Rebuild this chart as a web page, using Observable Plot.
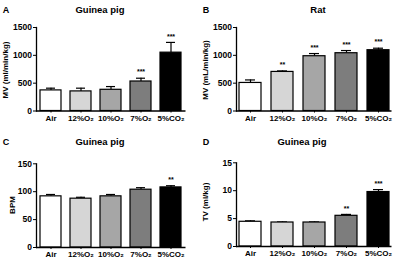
<!DOCTYPE html>
<html>
<head>
<meta charset="utf-8">
<script src="https://cdn.jsdelivr.net/npm/d3@7"></script>
<script src="https://cdn.jsdelivr.net/npm/@observablehq/plot@0.6"></script>
<style>
  html, body { margin: 0; padding: 0; background: #fff; }
  #root { position: relative; width: 400px; height: 263px; overflow: hidden; font-family: "Liberation Sans", Arial, sans-serif; }
  .panel { position: absolute; }
  .lbl { position: absolute; font-weight: bold; color: #000; white-space: nowrap; transform: translate(-50%, -50%); line-height: 1; }
  .rot { transform: translate(-50%, -50%) rotate(-90deg); }
  svg g[aria-label="y-axis tick label"] text { font-size: 8.5px; }
</style>
</head>
<body>
<div id="root"></div>
<script>
// ---- data ----
const categories = ["Air", "12%O\u2082", "10%O\u2082", "7%O\u2082", "5%CO\u2082"];
const barColors = ["#ffffff", "#d6d6d6", "#a6a6a6", "#7d7d7d", "#000000"];

const mvGuineaPig    = [370, 352, 381, 530, 1048];
const mvGuineaPigErr = [40, 58, 58, 59, 184];
const mvGuineaPigSig = ["", "", "", "***", "***"];

const mvRat    = [504, 702, 984, 1038, 1092];
const mvRatErr = [54, 18, 48, 48, 36];
const mvRatSig = ["", "**", "***", "***", "***"];

const bpmGuineaPig    = [91.7, 87.5, 91.7, 103.6, 107.7];
const bpmGuineaPigErr = [3.3, 2.5, 3.3, 3.6, 3.0];
const bpmGuineaPigSig = ["", "", "", "", "**"];

const tvGuineaPig    = [4.43, 4.3, 4.3, 5.5, 9.76];
const tvGuineaPigErr = [0.17, 0.1, 0.1, 0.25, 0.44];
const tvGuineaPigSig = ["", "", "", "**", "***"];

const mvTicks  = [0, 500, 1000, 1500];
const bpmTicks = [0, 50, 100, 150];
const tvTicks  = [0, 5, 10, 15];

const panels = [
  {letter: "A", title: "Guinea pig", ylabel: "MV (ml/min/kg)", values: mvGuineaPig, errs: mvGuineaPigErr, sig: mvGuineaPigSig, ticks: mvTicks,
   left: 0, top: 0, w: 200, h: 130, ml: 36, mr: 14.5, mt: 27, mb: 19.5,
   letterPos: [6, 10], titlePos: [100, 10], ylabelPos: [6, 70]},
  {letter: "B", title: "Rat", ylabel: "MV (mL/min/kg)", values: mvRat, errs: mvRatErr, sig: mvRatSig, ticks: mvTicks,
   left: 200, top: 0, w: 200, h: 130, ml: 36, mr: 8.5, mt: 27, mb: 19.5,
   letterPos: [206, 10], titlePos: [318, 10], ylabelPos: [206, 70]},
  {letter: "C", title: "Guinea pig", ylabel: "BPM", values: bpmGuineaPig, errs: bpmGuineaPigErr, sig: bpmGuineaPigSig, ticks: bpmTicks,
   left: 0, top: 130, w: 200, h: 133, ml: 36, mr: 14.5, mt: 33.3, mb: 16,
   letterPos: [6, 142], titlePos: [100, 142], ylabelPos: [13, 205]},
  {letter: "D", title: "Guinea pig", ylabel: "TV (ml/kg)", values: tvGuineaPig, errs: tvGuineaPigErr, sig: tvGuineaPigSig, ticks: tvTicks,
   left: 200, top: 130, w: 200, h: 133, ml: 36, mr: 8.5, mt: 32.3, mb: 17,
   letterPos: [206, 142], titlePos: [302, 142], ylabelPos: [206, 202]}
];

const root = document.getElementById("root");
const FONT = "'Liberation Sans', Arial, sans-serif";

function label(text, x, y, size, extraClass) {
  const d = document.createElement("div");
  d.className = "lbl" + (extraClass ? " " + extraClass : "");
  d.textContent = text;
  d.style.left = x + "px";
  d.style.top = y + "px";
  d.style.fontSize = size + "px";
  root.appendChild(d);
}

for (const p of panels) {
  const data = categories.map((c, i) => ({cat: c, v: p.values[i], e: p.errs[i], s: p.sig[i], fill: barColors[i]}));
  const chart = Plot.plot({
    width: p.w, height: p.h,
    marginLeft: p.ml, marginRight: p.mr, marginTop: p.mt, marginBottom: p.mb,
    style: {fontFamily: FONT, fontSize: "8px", fontWeight: "bold", background: "transparent", overflow: "visible", color: "#000"},
    x: {domain: categories, paddingInner: 0.31, paddingOuter: 0.075, label: null, tickSize: 2, tickPadding: 2},
    y: {domain: [0, p.ticks[p.ticks.length - 1]], ticks: p.ticks, tickFormat: d => String(d), label: null, tickSize: 3, tickPadding: 1.5},
    color: {type: "identity"},
    marks: [
      Plot.ruleX(data, {x: "cat", y1: "v", y2: d => d.v + d.e, stroke: "#000", strokeWidth: 1.2}),
      Plot.tickY(data, {x: "cat", y: d => d.v + d.e, stroke: "#000", strokeWidth: 1.2, insetLeft: 6, insetRight: 6}),
      Plot.barY(data, {x: "cat", y: "v", fill: "fill", stroke: "#000", strokeWidth: 1.2}),
      Plot.text(data, {x: "cat", y: d => d.v + d.e, text: "s", dy: -6, fontSize: 7, fontWeight: "bold", fill: "#000"}),
      Plot.ruleY([0], {stroke: "#000", strokeWidth: 1.3}),
      Plot.frame({anchor: "left", stroke: "#000", strokeWidth: 1.3})
    ]
  });
  const wrap = document.createElement("div");
  wrap.className = "panel";
  wrap.style.left = p.left + "px";
  wrap.style.top = p.top + "px";
  wrap.appendChild(chart);
  root.appendChild(wrap);

  label(p.letter, p.letterPos[0], p.letterPos[1], 9);
  label(p.title, p.titlePos[0], p.titlePos[1], 9.5);
  label(p.ylabel, p.ylabelPos[0], p.ylabelPos[1], 8, "rot");
}
</script>
</body>
</html>
